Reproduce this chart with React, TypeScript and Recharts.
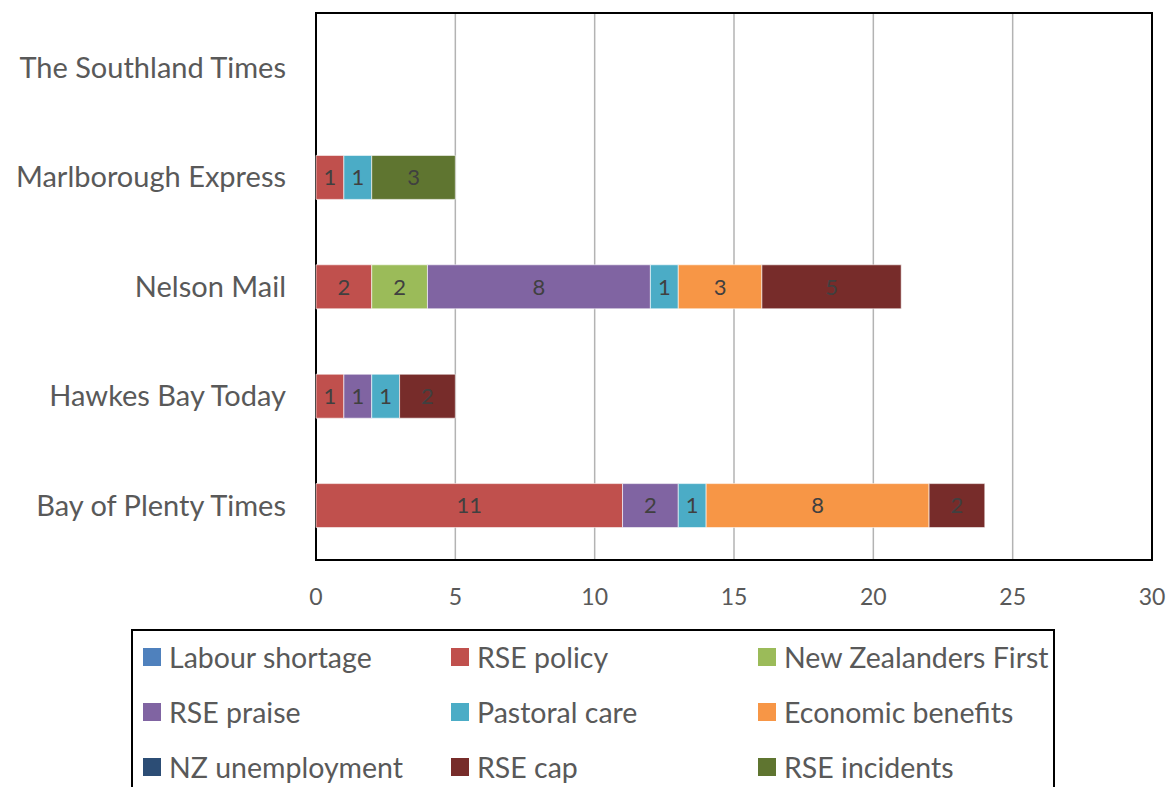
import { Bar, BarChart, CartesianGrid, LabelList, ReferenceArea, XAxis, YAxis } from "recharts";

const papers = [
  "The Southland Times",
  "Marlborough Express",
  "Nelson Mail",
  "Hawkes Bay Today",
  "Bay of Plenty Times"
];

// values per paper, same order as `papers`; null = no articles
const labourShortage = [null, null, null, null, null];
const rsePolicy = [null, 1, 2, 1, 11];
const nzFirst = [null, null, 2, null, null];
const rsePraise = [null, null, 8, 1, 2];
const pastoralCare = [null, 1, 1, 1, 1];
const economicBenefits = [null, null, 3, null, 8];
const nzUnemployment = [null, null, null, null, null];
const rseCap = [null, null, 5, 2, 2];
const rseIncidents = [null, 3, null, null, null];

const xTicks = [0, 5, 10, 15, 20, 25, 30];

const series = [
  { key: "labour", name: "Labour shortage", color: "#4F81BD", values: labourShortage },
  { key: "policy", name: "RSE policy", color: "#C0504D", values: rsePolicy },
  { key: "nzfirst", name: "New Zealanders First", color: "#9BBB59", values: nzFirst },
  { key: "praise", name: "RSE praise", color: "#8064A2", values: rsePraise },
  { key: "pastoral", name: "Pastoral care", color: "#4BACC6", values: pastoralCare },
  { key: "economic", name: "Economic benefits", color: "#F79646", values: economicBenefits },
  { key: "unemployment", name: "NZ unemployment", color: "#2C4D75", values: nzUnemployment },
  { key: "cap", name: "RSE cap", color: "#772C2A", values: rseCap },
  { key: "incidents", name: "RSE incidents", color: "#5F7530", values: rseIncidents }
];

const data = papers.map((paper, i) => {
  const row: Record<string, string | number | null> = { paper };
  series.forEach((s) => {
    row[s.key] = s.values[i];
  });
  return row;
});

const font = "Lato, 'Noto Sans', sans-serif";
const textColor = "#595959";

function ChartLegend() {
  return (
    <div
      style={{
        position: "absolute",
        left: 131,
        top: 629,
        width: 924,
        height: 200,
        border: "2px solid #000",
        overflow: "hidden",
        fontFamily: font,
        fontSize: 28.5,
        color: textColor,
        boxSizing: "border-box",
        background: "#fff"
      }}
    >
      {series.map((s, i) => {
        const col = i % 3;
        const row = Math.floor(i / 3);
        return (
          <div
            key={s.key}
            style={{
              position: "absolute",
              left: [10, 318, 625][col],
              top: 26 + row * 55 - 20,
              height: 40,
              display: "flex",
              alignItems: "center",
              whiteSpace: "nowrap"
            }}
          >
            <span style={{ width: 18, height: 18, background: s.color, display: "inline-block", marginRight: 8 }} />
            <span>{s.name}</span>
          </div>
        );
      })}
    </div>
  );
}

export default function App() {
  return (
    <div style={{ position: "absolute", left: 0, top: 0, width: 1169, height: 787, overflow: "hidden", background: "#fff" }}>
      <BarChart
        width={1169}
        height={620}
        data={data}
        layout="vertical"
        margin={{ top: 13, right: 17, left: 0, bottom: 0 }}
        barSize={44}
      >
        <CartesianGrid horizontal={false} stroke="#b3b3b3" strokeWidth={1.5} />
        <XAxis
          type="number"
          domain={[0, 30]}
          ticks={xTicks}
          interval={0}
          axisLine={false}
          tickLine={false}
          tickMargin={23}
          height={60}
          tick={{ fill: textColor, fontSize: 23, fontFamily: font }}
        />
        <YAxis
          type="category"
          dataKey="paper"
          width={316}
          axisLine={false}
          tickLine={false}
          tickMargin={24}
          tick={{ fill: textColor, fontSize: 29, fontFamily: font }}
        />
        {series.map((s) => (
          <Bar
            key={s.key}
            dataKey={s.key}
            name={s.name}
            stackId="a"
            fill={s.color}
            stroke="#ffffff"
            strokeWidth={0.6}
            isAnimationActive={false}
          >
            <LabelList
              dataKey={s.key}
              position="center"
              fill="#404040"
              fontSize={22}
              fontFamily={font}
              formatter={(v: unknown) => (v == null || v === 0 ? "" : String(v))}
            />
          </Bar>
        ))}
        <ReferenceArea x1={0} x2={30} fill="none" stroke="#000" strokeWidth={2} ifOverflow="visible" />
      </BarChart>
      <ChartLegend />
    </div>
  );
}
